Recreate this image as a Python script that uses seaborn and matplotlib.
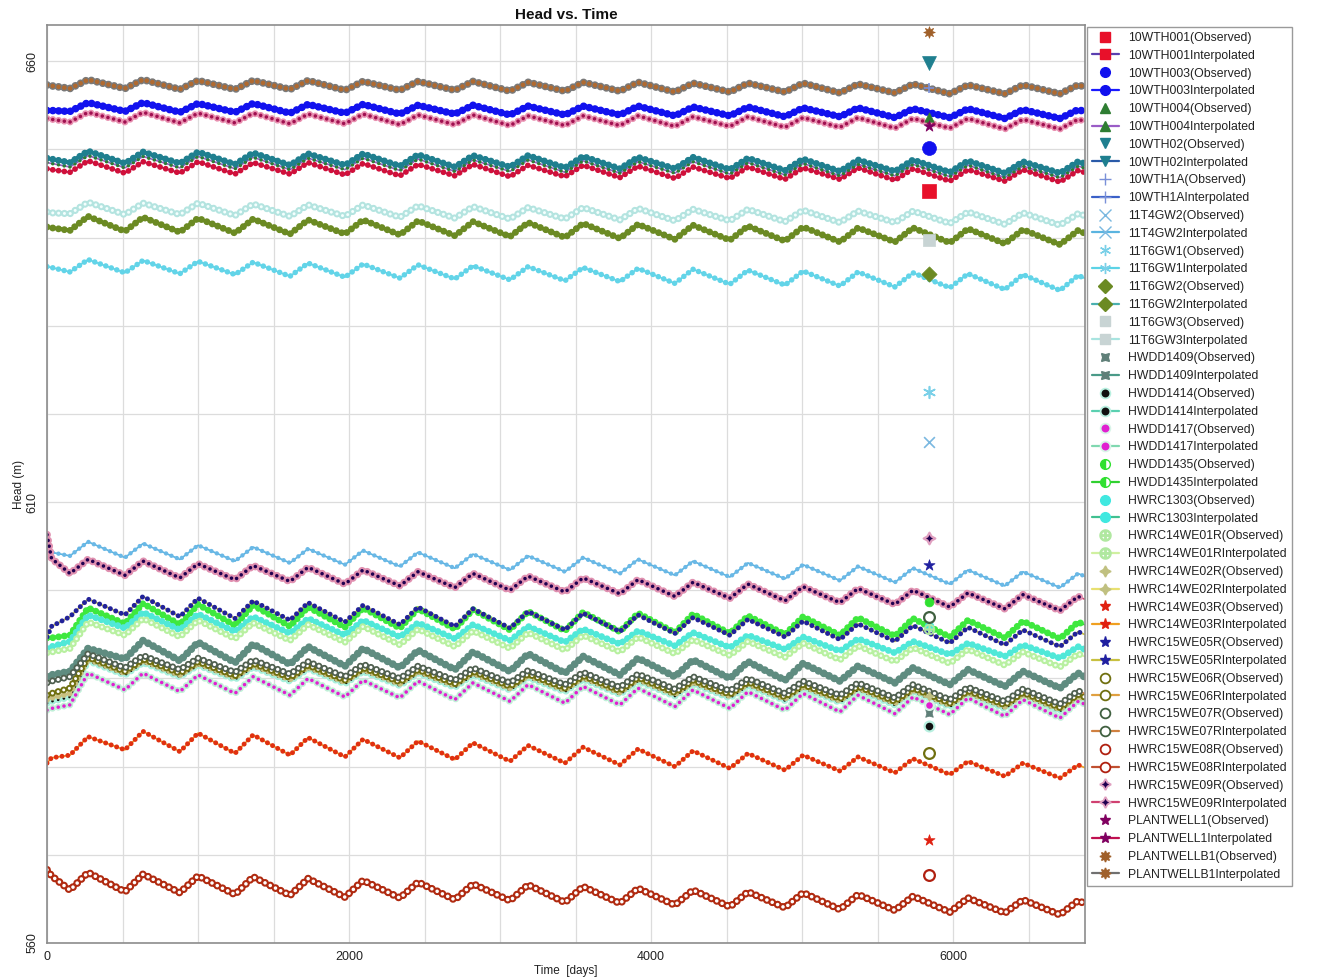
import numpy as np
import pandas as pd
import matplotlib
matplotlib.use("Agg")
import matplotlib.pyplot as plt
from matplotlib.lines import Line2D
import seaborn as sns

# ---------------- data ----------------
# model output days at start, early step, then alternating trough / peak days, then end
times = [0, 30, 152, 272, 516, 636, 880, 1000, 1245, 1365, 1609, 1729, 1973, 2093,
         2337, 2457, 2701, 2821, 3066, 3186, 3430, 3550, 3794, 3914, 4158, 4278,
         4522, 4642, 4887, 5007, 5251, 5371, 5615, 5735, 5979, 6099, 6343, 6463,
         6708, 6828, 6870]

wells = ["10WTH001", "10WTH003", "10WTH004", "10WTH02", "10WTH1A", "11T4GW2",
         "11T6GW1", "11T6GW2", "11T6GW3", "HWDD1409", "HWDD1414", "HWDD1417",
         "HWDD1435", "HWRC1303", "HWRC14WE01R", "HWRC14WE02R", "HWRC14WE03R",
         "HWRC15WE05R", "HWRC15WE06R", "HWRC15WE07R", "HWRC15WE08R",
         "HWRC15WE09R", "PLANTWELL1", "PLANTWELLB1"]

h_10WTH001 = [647.8, 647.7, 647.4, 648.7, 647.3, 648.6, 647.3, 648.6, 647.2, 648.5, 647.2, 648.5, 647.1, 648.4, 647.0, 648.3, 647.0, 648.3, 646.9, 648.2, 646.9, 648.2, 646.8, 648.1, 646.7, 648.0, 646.7, 648.0, 646.6, 647.9, 646.6, 647.9, 646.5, 647.8, 646.4, 647.7, 646.4, 647.7, 646.3, 647.6, 647.4]
h_10WTH003 = [654.4, 654.4, 654.3, 655.3, 654.3, 655.3, 654.2, 655.2, 654.2, 655.2, 654.1, 655.1, 654.1, 655.1, 654.0, 655.0, 654.0, 655.0, 653.9, 654.9, 653.9, 654.9, 653.9, 654.9, 653.8, 654.8, 653.8, 654.8, 653.7, 654.7, 653.7, 654.7, 653.6, 654.6, 653.6, 654.6, 653.5, 654.5, 653.5, 654.5, 654.3]
h_10WTH004 = [648.5, 648.4, 648.0, 649.3, 647.9, 649.2, 647.9, 649.2, 647.8, 649.1, 647.7, 649.0, 647.7, 649.0, 647.6, 648.9, 647.5, 648.8, 647.5, 648.8, 647.4, 648.7, 647.3, 648.6, 647.3, 648.6, 647.2, 648.5, 647.1, 648.4, 647.0, 648.3, 647.0, 648.3, 646.9, 648.2, 646.8, 648.1, 646.8, 648.1, 647.9]
h_10WTH02 = [649.0, 648.9, 648.5, 649.8, 648.4, 649.7, 648.4, 649.7, 648.3, 649.6, 648.2, 649.5, 648.2, 649.5, 648.1, 649.4, 648.0, 649.3, 648.0, 649.3, 647.9, 649.2, 647.8, 649.1, 647.8, 649.1, 647.7, 649.0, 647.6, 648.9, 647.5, 648.8, 647.5, 648.8, 647.4, 648.7, 647.3, 648.6, 647.3, 648.6, 648.4]
h_10WTH1A = [657.2, 657.1, 656.8, 657.8, 656.8, 657.8, 656.7, 657.7, 656.7, 657.7, 656.7, 657.7, 656.6, 657.6, 656.6, 657.6, 656.6, 657.6, 656.5, 657.5, 656.5, 657.5, 656.5, 657.5, 656.4, 657.4, 656.4, 657.4, 656.4, 657.4, 656.3, 657.3, 656.3, 657.3, 656.2, 657.2, 656.2, 657.2, 656.2, 657.2, 657.0]
h_11T4GW2 = [604.4, 604.3, 603.9, 605.5, 603.7, 605.3, 603.5, 605.1, 603.3, 604.9, 603.1, 604.7, 602.9, 604.5, 602.7, 604.3, 602.5, 604.1, 602.3, 603.9, 602.1, 603.7, 601.9, 603.5, 601.7, 603.3, 601.5, 603.1, 601.3, 602.9, 601.1, 602.7, 600.9, 602.5, 600.7, 602.3, 600.5, 602.1, 600.3, 601.9, 601.6]
h_11T6GW1 = [636.7, 636.6, 636.1, 637.5, 636.0, 637.4, 635.9, 637.3, 635.8, 637.2, 635.6, 637.1, 635.5, 637.0, 635.4, 636.9, 635.3, 636.8, 635.2, 636.7, 635.1, 636.6, 635.0, 636.5, 634.8, 636.4, 634.7, 636.3, 634.6, 636.2, 634.5, 636.1, 634.4, 636.0, 634.3, 635.9, 634.1, 635.8, 634.0, 635.7, 635.4]
h_11T6GW2 = [641.2, 641.1, 640.8, 642.4, 640.7, 642.3, 640.6, 642.2, 640.5, 642.1, 640.4, 642.0, 640.4, 642.0, 640.3, 641.9, 640.2, 641.8, 640.1, 641.7, 640.0, 641.6, 639.9, 641.5, 639.8, 641.4, 639.7, 641.3, 639.6, 641.2, 639.5, 641.1, 639.5, 641.1, 639.4, 641.0, 639.3, 640.9, 639.2, 640.8, 640.5]
h_11T6GW3 = [642.9, 642.8, 642.7, 644.0, 642.6, 643.9, 642.6, 643.9, 642.5, 643.8, 642.4, 643.7, 642.4, 643.7, 642.3, 643.6, 642.2, 643.5, 642.1, 643.4, 642.1, 643.4, 642.0, 643.3, 641.9, 643.2, 641.9, 643.2, 641.8, 643.1, 641.7, 643.0, 641.7, 643.0, 641.6, 642.9, 641.5, 642.8, 641.4, 642.7, 642.5]
h_HWDD1409 = [590.2, 590.4, 590.8, 593.4, 592.2, 594.3, 592.0, 594.1, 591.8, 593.9, 591.6, 593.6, 591.4, 593.4, 591.2, 593.2, 591.0, 593.0, 590.8, 592.8, 590.6, 592.5, 590.4, 592.3, 590.2, 592.1, 590.0, 591.9, 589.8, 591.7, 589.7, 591.4, 589.5, 591.2, 589.3, 591.0, 589.1, 590.8, 588.9, 590.6, 590.2]
h_HWDD1414 = [587.2, 587.4, 587.9, 592.0, 590.4, 591.8, 590.2, 591.5, 589.9, 591.3, 589.7, 591.1, 589.4, 590.8, 589.2, 590.6, 589.0, 590.4, 588.7, 590.1, 588.5, 589.9, 588.2, 589.7, 588.0, 589.4, 587.8, 589.2, 587.5, 588.9, 587.3, 588.7, 587.0, 588.5, 586.8, 588.2, 586.6, 588.0, 586.3, 587.8, 587.5]
h_HWDD1417 = [586.4, 586.6, 587.0, 590.6, 588.7, 590.6, 588.5, 590.4, 588.3, 590.2, 588.1, 590.0, 587.9, 589.8, 587.8, 589.7, 587.6, 589.5, 587.4, 589.3, 587.2, 589.1, 587.0, 588.9, 586.8, 588.7, 586.6, 588.5, 586.4, 588.3, 586.2, 588.1, 586.0, 587.9, 585.9, 587.8, 585.7, 587.6, 585.5, 587.4, 587.1]
h_HWDD1435 = [594.6, 594.6, 594.9, 598.0, 596.2, 598.5, 596.1, 598.4, 596.0, 598.3, 595.9, 598.1, 595.8, 598.0, 595.7, 597.9, 595.6, 597.8, 595.5, 597.6, 595.4, 597.5, 595.3, 597.4, 595.2, 597.3, 595.1, 597.1, 595.0, 597.0, 594.9, 596.9, 594.8, 596.8, 594.7, 596.6, 594.6, 596.5, 594.5, 596.4, 596.1]
h_HWRC1303 = [593.4, 593.6, 594.2, 597.2, 595.7, 597.5, 595.5, 597.3, 595.3, 597.0, 595.1, 596.8, 594.9, 596.6, 594.7, 596.3, 594.5, 596.1, 594.3, 595.9, 594.1, 595.6, 593.9, 595.4, 593.7, 595.2, 593.5, 594.9, 593.3, 594.7, 593.1, 594.5, 592.9, 594.2, 592.7, 594.0, 592.5, 593.8, 592.3, 593.6, 593.3]
h_HWRC14WE01R = [592.9, 593.0, 593.4, 596.4, 594.9, 596.8, 594.7, 596.6, 594.5, 596.3, 594.3, 596.1, 594.1, 595.9, 593.8, 595.6, 593.6, 595.4, 593.4, 595.2, 593.2, 594.9, 593.0, 594.7, 592.8, 594.4, 592.6, 594.2, 592.4, 594.0, 592.1, 593.7, 591.9, 593.5, 591.7, 593.3, 591.5, 593.0, 591.3, 592.8, 592.5]
h_HWRC14WE02R = [587.6, 587.8, 588.3, 592.2, 590.6, 592.0, 590.4, 591.7, 590.1, 591.5, 589.9, 591.3, 589.6, 591.0, 589.4, 590.8, 589.2, 590.6, 588.9, 590.3, 588.7, 590.1, 588.4, 589.9, 588.2, 589.6, 588.0, 589.4, 587.7, 589.1, 587.5, 588.9, 587.2, 588.7, 587.0, 588.4, 586.8, 588.2, 586.5, 588.0, 587.7]
h_HWRC14WE03R = [580.4, 581.0, 581.3, 583.4, 581.9, 584.0, 581.7, 583.8, 581.5, 583.6, 581.3, 583.3, 581.1, 583.1, 581.0, 582.9, 580.8, 582.7, 580.6, 582.4, 580.4, 582.2, 580.2, 582.0, 580.0, 581.8, 579.8, 581.5, 579.6, 581.3, 579.5, 581.1, 579.3, 580.9, 579.1, 580.6, 578.9, 580.4, 578.7, 580.2, 579.9]
h_HWRC15WE05R = [594.7, 595.9, 597.0, 599.0, 597.2, 599.3, 597.0, 599.1, 596.8, 598.8, 596.6, 598.6, 596.4, 598.3, 596.1, 598.1, 595.9, 597.9, 595.7, 597.6, 595.5, 597.4, 595.3, 597.2, 595.1, 596.9, 594.9, 596.7, 594.7, 596.5, 594.4, 596.2, 594.2, 596.0, 594.0, 595.8, 593.8, 595.5, 593.6, 595.3, 595.0]
h_HWRC15WE06R = [588.1, 588.3, 588.9, 592.4, 590.8, 592.2, 590.6, 591.9, 590.3, 591.7, 590.1, 591.5, 589.8, 591.2, 589.6, 591.0, 589.4, 590.8, 589.1, 590.5, 588.9, 590.3, 588.6, 590.1, 588.4, 589.8, 588.2, 589.6, 587.9, 589.3, 587.7, 589.1, 587.4, 588.9, 587.2, 588.6, 587.0, 588.4, 586.7, 588.2, 587.9]
h_HWRC15WE07R = [589.5, 589.7, 590.2, 592.8, 591.2, 592.6, 591.0, 592.3, 590.7, 592.1, 590.5, 591.9, 590.2, 591.6, 590.0, 591.4, 589.8, 591.2, 589.5, 590.9, 589.3, 590.7, 589.0, 590.5, 588.8, 590.2, 588.6, 590.0, 588.3, 589.7, 588.1, 589.5, 587.8, 589.3, 587.6, 589.0, 587.4, 588.8, 587.1, 588.6, 588.3]
h_HWRC15WE08R = [568.3, 567.6, 566.0, 568.0, 565.8, 567.8, 565.7, 567.6, 565.5, 567.5, 565.4, 567.3, 565.2, 567.1, 565.1, 566.9, 564.9, 566.7, 564.8, 566.6, 564.6, 566.4, 564.5, 566.2, 564.3, 566.0, 564.1, 565.8, 564.0, 565.7, 563.8, 565.5, 563.7, 565.3, 563.5, 565.1, 563.4, 564.9, 563.2, 564.8, 564.5]
h_HWRC15WE09R = [606.3, 603.6, 601.9, 603.5, 601.7, 603.3, 601.4, 603.0, 601.2, 602.8, 601.0, 602.6, 600.7, 602.3, 600.5, 602.1, 600.3, 601.9, 600.0, 601.6, 599.8, 601.4, 599.6, 601.2, 599.3, 600.9, 599.1, 600.7, 598.8, 600.4, 598.6, 600.2, 598.4, 600.0, 598.1, 599.7, 597.9, 599.5, 597.7, 599.3, 599.0]
h_PLANTWELL1 = [653.5, 653.4, 653.1, 654.2, 653.1, 654.2, 653.0, 654.1, 653.0, 654.1, 652.9, 654.0, 652.9, 654.0, 652.8, 653.9, 652.8, 653.9, 652.7, 653.8, 652.7, 653.8, 652.7, 653.8, 652.6, 653.7, 652.6, 653.7, 652.5, 653.6, 652.5, 653.6, 652.4, 653.5, 652.4, 653.5, 652.3, 653.4, 652.3, 653.4, 653.2]
h_PLANTWELLB1 = [657.3, 657.2, 656.9, 657.9, 656.9, 657.9, 656.8, 657.8, 656.8, 657.8, 656.8, 657.8, 656.7, 657.7, 656.7, 657.7, 656.7, 657.7, 656.6, 657.6, 656.6, 657.6, 656.6, 657.6, 656.5, 657.5, 656.5, 657.5, 656.5, 657.5, 656.4, 657.4, 656.4, 657.4, 656.3, 657.3, 656.3, 657.3, 656.3, 657.3, 657.1]

# observed heads, all measured on the same day
obs_day = 5840
obs_heads = [645.3, 650.1, 653.7, 659.8, 657.0, 616.8, 622.5, 635.9, 639.7, 586.1,
             584.6, 587.0, 598.7, 595.9, 595.6, 588.0, 571.7, 602.9, 581.5, 597.0,
             567.7, 605.9, 652.6, 663.3]

x_ticks = [0, 500, 1000, 1500, 2000, 2500, 3000, 3500, 4000, 4500, 5000, 5500, 6000, 6500]
x_tick_labels = ["0", "", "", "", "2000", "", "", "", "4000", "", "", "", "6000", ""]
y_ticks = [560, 570, 580, 590, 600, 610, 620, 630, 640, 650, 660]
y_tick_labels = ["560", "", "", "", "", "610", "", "", "", "", "660"]

heads = [h_10WTH001, h_10WTH003, h_10WTH004, h_10WTH02, h_10WTH1A, h_11T4GW2,
         h_11T6GW1, h_11T6GW2, h_11T6GW3, h_HWDD1409, h_HWDD1414, h_HWDD1417,
         h_HWDD1435, h_HWRC1303, h_HWRC14WE01R, h_HWRC14WE02R, h_HWRC14WE03R,
         h_HWRC15WE05R, h_HWRC15WE06R, h_HWRC15WE07R, h_HWRC15WE08R,
         h_HWRC15WE09R, h_PLANTWELL1, h_PLANTWELLB1]
for w, h in zip(wells, heads):
    assert len(h) == len(times), (w, len(h))

frames = [pd.DataFrame({"well": w, "day": times, "head": h}) for w, h in zip(wells, heads)]
df = pd.concat(frames, ignore_index=True)

# ---------------- styles ----------------
# line colour, dot colour, dot width, inner dot colour, inner width,
# observed marker, face, edge, scatter size
STY = {
    "10WTH001":    ("#5a3fb0", "#d0103a", 4.2, None, 0, "s", "#e8102a", "#e8102a", 90),
    "10WTH003":    ("#1a1aff", "#1212ee", 5.5, None, 0, "o", "#1010ee", "#1010ee", 100),
    "10WTH004":    ("#9a5cc6", "#2e7d32", 2.6, None, 0, "^", "#2e7d32", "#2e7d32", 45),
    "10WTH02":     ("#2a5aa8", "#1f7f8f", 5.0, None, 0, "v", "#1f7f8f", "#1f7f8f", 100),
    "10WTH1A":     ("#3a60c8", "#5a7ad0", 2.0, None, 0, "+", "#7a90d8", "#7a90d8", 60),
    "11T4GW2":     ("#5ab4e0", "#6ab8e6", 3.2, None, 0, "x", "#7ab8e0", "#7ab8e0", 60),
    "11T6GW1":     ("#5cd3e6", "#62d4e8", 4.0, None, 0, (6, 2, 0), "#7ad0e8", "#7ad0e8", 70),
    "11T6GW2":     ("#4ab0b0", "#6b8a23", 5.0, None, 0, "D", "#6b8a23", "#6b8a23", 60),
    "11T6GW3":     ("#a8e4e0", "#b4e4e0", 5.2, "#f4fffe", 2.2, "s", "#c8d4d4", "#c8d4d4", 80),
    "HWDD1409":    ("#4a9a88", "#5f8c80", 5.6, None, 0, (4, 1, 45), "#5f7f78", "#5f7f78", 60),
    "HWDD1414":    ("#5ad0b0", "#a8f0dc", 5.2, "#101010", 2.0, "o", "#101010", "#b8f0e0", 50),
    "HWDD1417":    ("#80d8b0", "#c0f0d8", 5.0, "#e020d0", 2.6, "o", "#e020d0", "#d8f4e8", 40),
    "HWDD1435":    ("#30d030", "#3ee83e", 5.0, None, 0, "o", "#30e030", "#30e030", 40),
    "HWRC1303":    ("#40c090", "#50e8d8", 5.0, None, 0, "o", "#40e8e0", "#40e8e0", 40),
    "HWRC14WE01R": ("#d0f0a0", "#b8f0a0", 5.0, "#f0fff0", 2.0, "$\\oplus$", "#b0e8a0", "#b0e8a0", 60),
    "HWRC14WE02R": ("#e8e070", "#c8c080", 4.4, None, 0, (4, 1, 0), "#c0c080", "#c0c080", 50),
    "HWRC14WE03R": ("#f0a020", "#e03010", 3.6, None, 0, "*", "#e02010", "#e02010", 70),
    "HWRC15WE05R": ("#c8c040", "#22229a", 3.6, None, 0, "*", "#2020a0", "#2020a0", 70),
    "HWRC15WE06R": ("#e0a040", "#707010", 5.0, "#ffffff", 2.2, "o", "#ffffff", "#707010", 60),
    "HWRC15WE07R": ("#d08040", "#506050", 5.0, "#ffffff", 2.4, "o", "#ffffff", "#406040", 60),
    "HWRC15WE08R": ("#c05030", "#b02a10", 5.6, "#ffffff", 2.6, "o", "#ffffff", "#b02010", 60),
    "HWRC15WE09R": ("#d04070", "#e090b0", 5.6, "#200050", 2.6, (4, 1, 0), "#200050", "#e0a0c0", 70),
    "PLANTWELL1":  ("#c01050", "#e890b0", 5.0, "#a01050", 2.6, "*", "#800060", "#800060", 70),
    "PLANTWELLB1": ("#707070", "#7a7a7a", 5.6, "#b06a30", 3.4, (8, 1, 0), "#a0602a", "#a0602a", 70),
}

# ---------------- figure ----------------
sns.set_theme(style="whitegrid")
plt.rcParams["font.family"] = ["Liberation Sans", "DejaVu Sans"]
plt.rcParams["lines.scale_dashes"] = False
plt.rcParams["axes.unicode_minus"] = False

fig = plt.figure(figsize=(13.25, 9.8), dpi=100)
fig.patch.set_facecolor("white")
ax = fig.add_axes([47 / 1325, 37 / 980, (1085 - 47) / 1325, (943 - 25) / 980])
ax.set_facecolor("white")

DOTS = (0, (0.01, 4.2))
for i, w in enumerate(wells):
    lc, oc, ow, ic, iw, m, mf, me, ms = STY[w]
    sub = df[df["well"] == w]
    z = 2 + i * 0.01
    sns.lineplot(data=sub, x="day", y="head", color=lc, linewidth=1.2,
                 ax=ax, legend=False, zorder=z)
    sns.lineplot(data=sub, x="day", y="head", color=oc, linewidth=ow,
                 linestyle=DOTS, dash_capstyle="round", ax=ax, legend=False,
                 zorder=z + 0.001)
    if ic is not None:
        sns.lineplot(data=sub, x="day", y="head", color=ic, linewidth=iw,
                     linestyle=DOTS, dash_capstyle="round", ax=ax, legend=False,
                     zorder=z + 0.002)

for w, v in zip(wells, obs_heads):
    lc, oc, ow, ic, iw, m, mf, me, ms = STY[w]
    mk = matplotlib.markers.MarkerStyle(m)
    if mk.is_filled():
        sns.scatterplot(x=[obs_day], y=[v], marker=m, s=ms, color=mf,
                        edgecolor=me, linewidth=1.6 if me != mf else 0.5,
                        ax=ax, legend=False, zorder=5)
    else:
        sns.scatterplot(x=[obs_day], y=[v], marker=m, s=ms, color=mf,
                        linewidth=1.2, ax=ax, legend=False, zorder=5)

ax.set_xlim(0, 6874)
ax.set_ylim(560, 664.1)
ax.set_xticks(x_ticks)
ax.set_xticklabels(x_tick_labels)
ax.set_yticks(y_ticks)
ax.set_yticklabels(y_tick_labels, rotation=90, va="center")
ax.tick_params(axis="both", which="major", direction="out", length=4, width=1,
               color="#888888", labelsize=9, pad=2, labelcolor="#222222")
ax.grid(True, color="#dcdcdc", linewidth=0.9)
for s in ax.spines.values():
    s.set_color("#8c8c8c")
    s.set_linewidth(1.2)

ax.set_title("Head vs. Time", fontsize=11, fontweight="bold", pad=4, color="#111111")
ax.set_xlabel("Time  [days]", fontsize=8.5, labelpad=1, color="#222222")
ax.set_ylabel("Head (m)", fontsize=8.5, labelpad=1, color="#222222")

# ---------------- legend ----------------
handles, labels = [], []
for w in wells:
    lc, oc, ow, ic, iw, m, mf, me, ms = STY[w]
    lms = 7 if m in ("s", "o", "v", "^", "D") else 8
    extra = {}
    if w == "HWDD1435":
        extra = dict(fillstyle="left", markerfacecoloralt="white")
    handles.append(Line2D([0], [0], ls="none", marker=m, markersize=lms,
                          markerfacecolor=mf, markeredgecolor=me,
                          markeredgewidth=1.3 if me != mf else 1.0, color=mf, **extra))
    labels.append(f"{w}(Observed)")
    handles.append(Line2D([0], [0], ls="-", lw=1.6, color=lc, marker=m,
                          markersize=lms, markerfacecolor=mf, markeredgecolor=me,
                          markeredgewidth=1.3 if me != mf else 1.0, **extra))
    labels.append(f"{w}Interpolated")

leg = fig.legend(handles, labels, loc="upper left",
                 bbox_to_anchor=(1087 / 1325, 1 - 27 / 980),
                 bbox_transform=fig.transFigure, frameon=True, fancybox=False,
                 edgecolor="#9a9a9a", framealpha=1, fontsize=8.8,
                 handlelength=2.2, handletextpad=0.75, labelspacing=0.475,
                 borderpad=0.4, borderaxespad=0.0)
leg.get_frame().set_linewidth(1.0)
for t in leg.get_texts():
    t.set_color("#222222")

fig.savefig("out.png", dpi=100, facecolor="white")
